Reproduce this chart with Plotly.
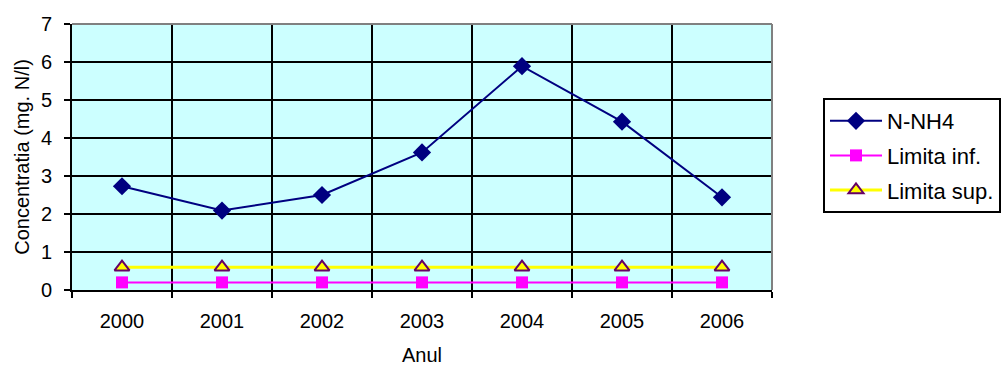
import plotly.graph_objects as go

years = ["2000", "2001", "2002", "2003", "2004", "2005", "2006"]
n_nh4 = [2.73, 2.09, 2.50, 3.62, 5.89, 4.43, 2.44]
limita_inf = [0.2, 0.2, 0.2, 0.2, 0.2, 0.2, 0.2]
limita_sup = [0.6, 0.6, 0.6, 0.6, 0.6, 0.6, 0.6]

FONT = "Liberation Sans, Arial, sans-serif"
W, H = 1007, 368

fig = go.Figure()
fig.add_trace(go.Scatter(
    x=years, y=n_nh4, name="N-NH4", mode="lines+markers", legendgroup="a",
    line=dict(color="#000080", width=2),
    marker=dict(symbol="diamond", size=14, color="#000080"),
))
fig.add_trace(go.Scatter(
    x=years, y=limita_inf, name="Limita inf.", mode="lines+markers", legendgroup="b",
    line=dict(color="#FF00FF", width=2),
    marker=dict(symbol="square", size=12, color="#FF00FF"),
))
fig.add_trace(go.Scatter(
    x=years, y=limita_sup, name="Limita sup.", mode="lines+markers", legendgroup="c",
    line=dict(color="#FFFF00", width=3),
    marker=dict(symbol="triangle-up", size=13, color="#FFFF00",
                line=dict(color="#660066", width=2)),
))

fig.update_layout(
    width=W, height=H,
    margin=dict(l=72, r=235, t=24, b=78),
    paper_bgcolor="white",
    plot_bgcolor="#CCFFFF",
    font=dict(family=FONT, size=20, color="black"),
    showlegend=True,
    legend=dict(
        xref="container", yref="container",
        x=823 / W, y=1 - 98 / H, xanchor="left", yanchor="top",
        bordercolor="black", borderwidth=2, bgcolor="white",
        font=dict(family=FONT, size=22),
        tracegroupgap=3, itemwidth=52,
    ),
    shapes=[
        dict(type="line", xref="paper", yref="paper", x0=0, x1=1, y0=1, y1=1,
             line=dict(color="#808080", width=2)),
        dict(type="line", xref="paper", yref="paper", x0=1, x1=1, y0=0, y1=1,
             line=dict(color="#808080", width=2)),
    ],
)

fig.update_xaxes(
    type="category", range=[-0.5, 6.5], tickson="boundaries",
    showgrid=True, gridcolor="black", gridwidth=2,
    showline=True, linecolor="black", linewidth=2,
    ticks="outside", ticklen=6, tickwidth=2, tickcolor="black",
    ticklabelstandoff=12, automargin=False,
    title=dict(text="Anul", font=dict(family=FONT, size=20), standoff=17),
    zeroline=False,
)
fig.update_yaxes(
    range=[0, 7], dtick=1, tick0=0,
    showgrid=True, gridcolor="black", gridwidth=2,
    showline=True, linecolor="black", linewidth=2,
    ticks="outside", ticklen=6, tickwidth=2, tickcolor="black",
    ticklabelstandoff=8, automargin=False,
    title=dict(text="Concentratia (mg. N/l)", font=dict(family=FONT, size=20), standoff=6),
    zeroline=False,
)

fig.write_html("out.html")
